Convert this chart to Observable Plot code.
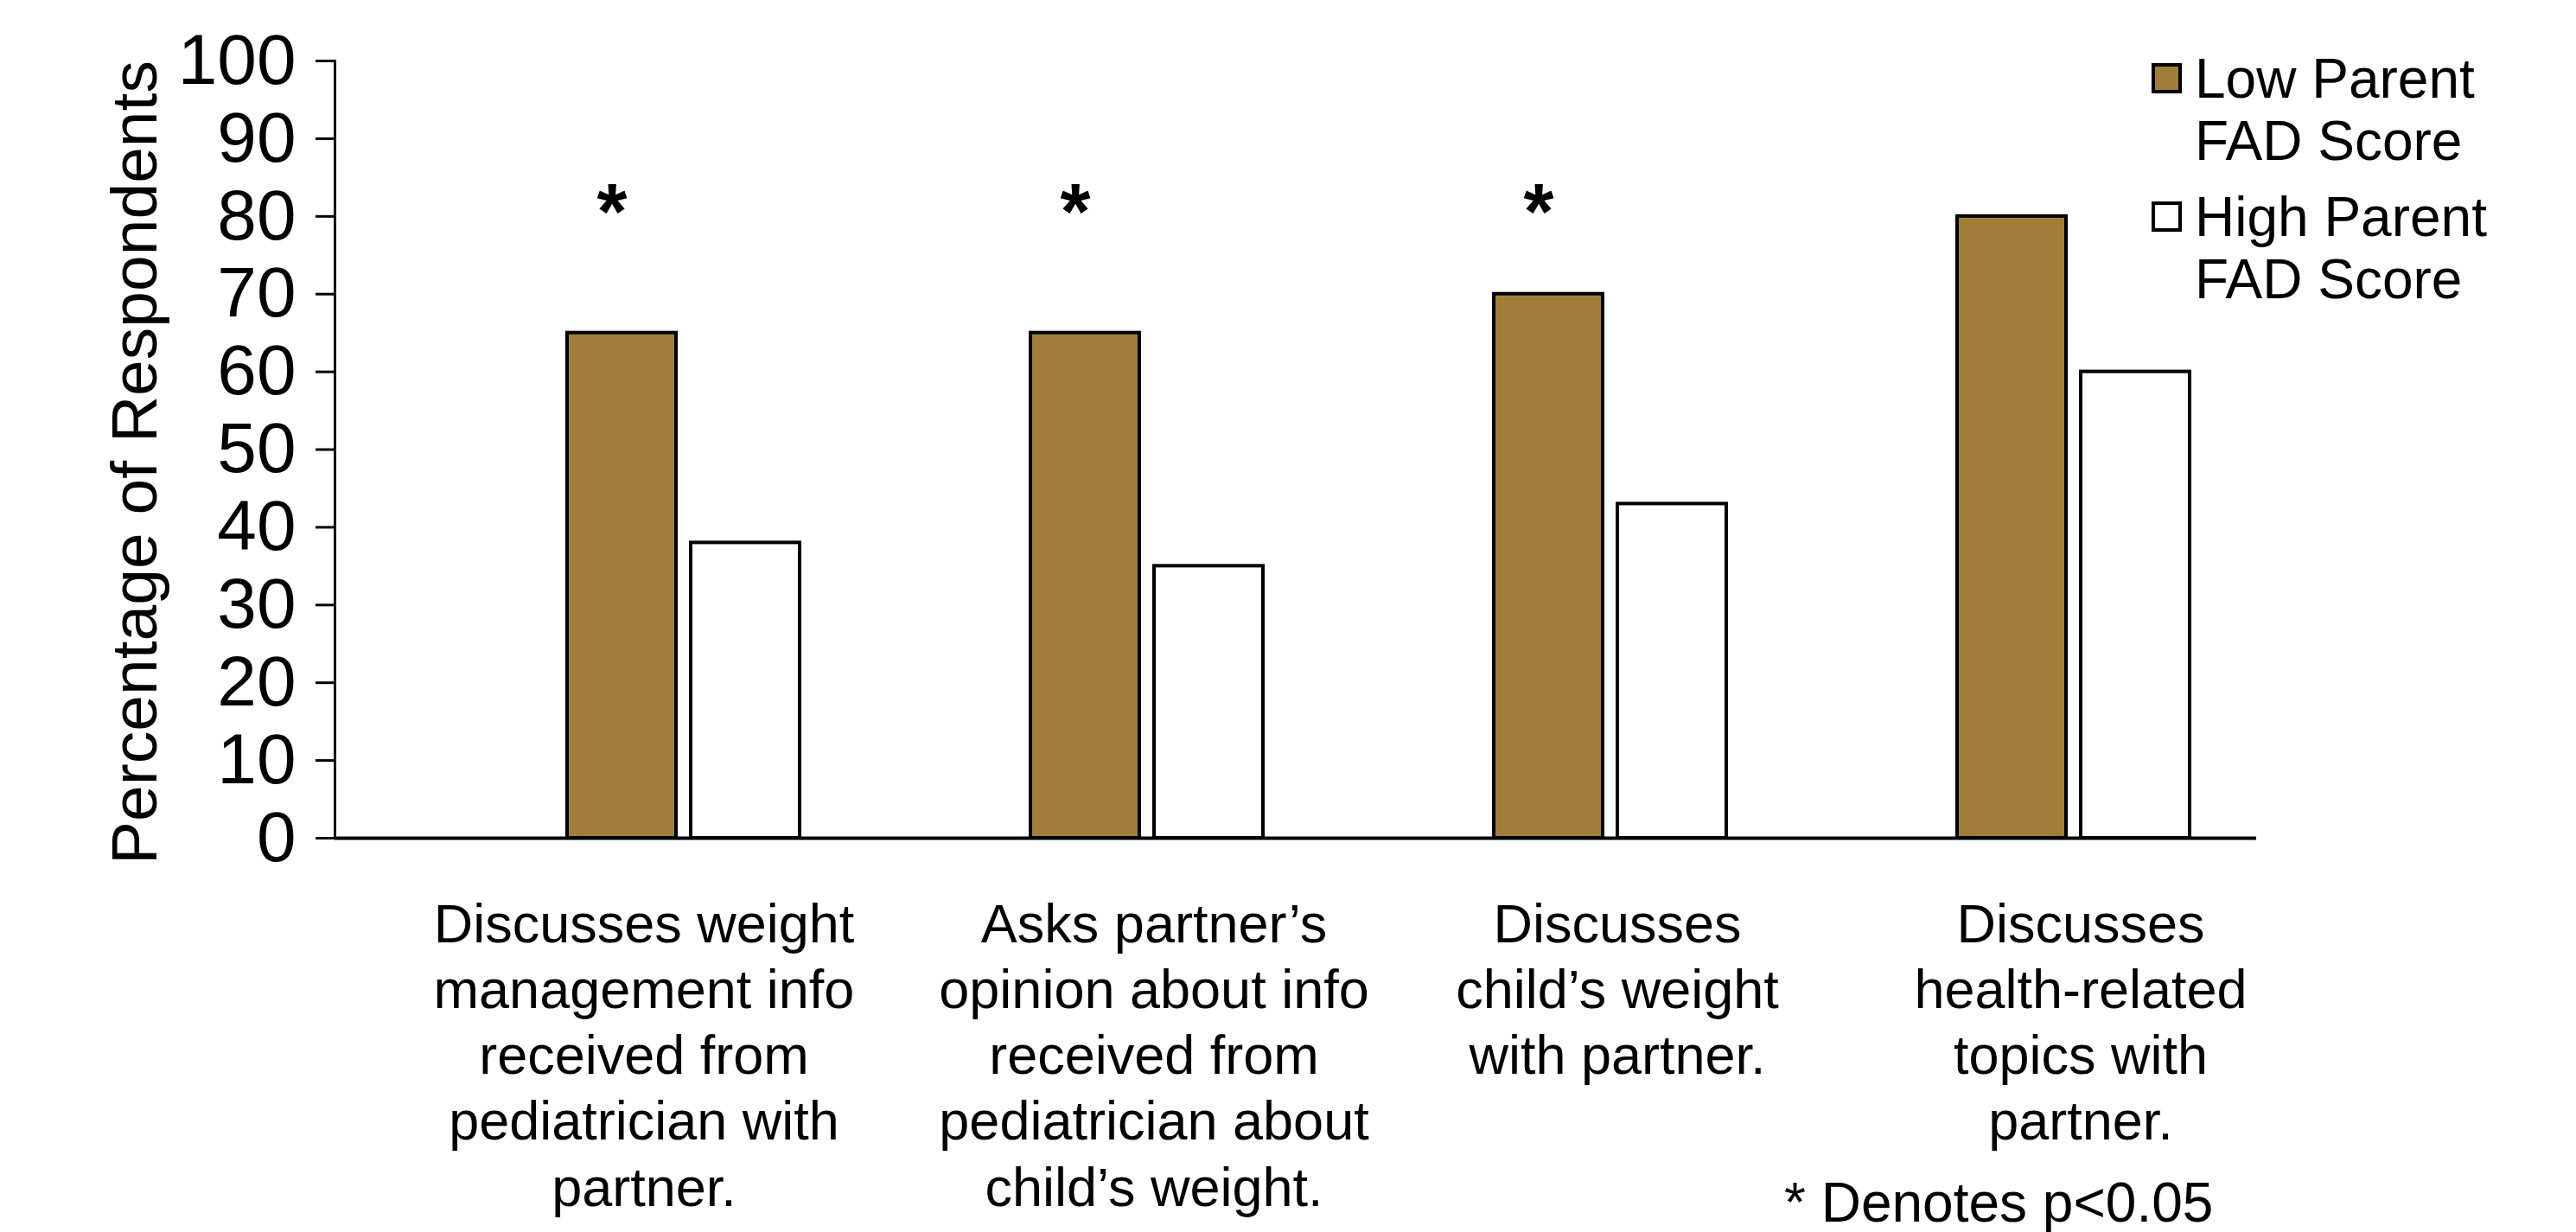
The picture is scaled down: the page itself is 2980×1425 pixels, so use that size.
<!DOCTYPE html>
<html>
<head>
<meta charset="utf-8">
<script src="https://cdn.jsdelivr.net/npm/d3@7"></script>
<script src="https://cdn.jsdelivr.net/npm/@observablehq/plot@0.6"></script>
<style>
  html, body { margin: 0; padding: 0; background: #fff; }
  #wrap { position: relative; width: 2980px; height: 1425px; font-family: "Liberation Sans", Arial, sans-serif; color: #000; }
  .sw { position: absolute; width: 27px; height: 27px; border: 4px solid #000; box-sizing: content-box; }
  .lt { position: absolute; font-size: 64px; line-height: 72px; white-space: pre; }
</style>
</head>
<body>
<div id="wrap"></div>
<script>
// ---- data ----
const categories = [
  "Discusses weight\nmanagement info\nreceived from\npediatrician with\npartner.",
  "Asks partner\u2019s\nopinion about info\nreceived from\npediatrician about\nchild\u2019s weight.",
  "Discusses\nchild\u2019s weight\nwith partner.",
  "Discusses\nhealth-related\ntopics with\npartner."
];
const lowScores = [65, 65, 70, 80];
const highScores = [38, 35, 43, 60];
const significant = [true, true, true, false];
const seriesNames = ["Low Parent\nFAD Score", "High Parent\nFAD Score"];
const seriesColors = ["#A07E3A", "#FFFFFF"];
const yTicks = [0, 10, 20, 30, 40, 50, 60, 70, 80, 90, 100];
const yLabel = "Percentage of Respondents";
const note = "* Denotes p<0.05";

const rows = categories.map((c, i) => ({category: c, low: lowScores[i], high: highScores[i], sig: significant[i]}));

const labelStyle = {x: "category", text: "category", frameAnchor: "bottom", lineAnchor: "top", dy: 66, fontSize: 63, lineHeight: 1.21};

const chart = Plot.plot({
  width: 2980,
  height: 1425,
  marginTop: 70,
  marginBottom: 456,
  marginLeft: 387,
  marginRight: 370,
  style: {fontFamily: "'Liberation Sans', Arial, sans-serif", background: "#fff", color: "#000"},
  x: {domain: categories, paddingInner: 0.4986, paddingOuter: 0.321, align: 0.776, axis: null},
  y: {domain: [0, 100], axis: null},
  marks: [
    Plot.barY(rows, {x: "category", y: "low", fill: seriesColors[0], stroke: "#000", strokeWidth: 4, insetRight: 143}),
    Plot.barY(rows, {x: "category", y: "high", fill: seriesColors[1], stroke: "#000", strokeWidth: 4, insetLeft: 143}),
    Plot.ruleY([0], {stroke: "#000", strokeWidth: 4}),
    Plot.frame({anchor: "left", stroke: "#000", strokeWidth: 3}),
    Plot.axisY({ticks: yTicks, tickSize: 22, tickPadding: 23, fontSize: 82, tickFormat: d => String(d), strokeWidth: 3, label: null}),
    Plot.text(rows.filter(d => d.sig), {x: "category", text: () => "*", frameAnchor: "top", lineAnchor: "top", dx: -83, dy: 142, fontSize: 90, fontWeight: "bold"}),
    Plot.text(rows.slice(0, 1), {...labelStyle, dx: -46}),
    Plot.text(rows.slice(1), {...labelStyle, dx: 8}),
    Plot.text([yLabel], {frameAnchor: "left", textAnchor: "middle", lineAnchor: "middle", rotate: -90, dx: -231, dy: 15, fontSize: 75})
  ]
});

const wrap = document.getElementById("wrap");
wrap.appendChild(chart);

// legend
const legendTops = [55, 215];
seriesNames.forEach((name, i) => {
  const sw = document.createElement("div");
  sw.className = "sw";
  sw.style.left = "2489px";
  sw.style.top = (legendTops[i] + 18) + "px";
  sw.style.background = seriesColors[i];
  wrap.appendChild(sw);
  const t = document.createElement("div");
  t.className = "lt";
  t.style.left = "2539px";
  t.style.top = legendTops[i] + "px";
  t.textContent = name;
  wrap.appendChild(t);
});

const cap = document.createElement("div");
cap.className = "lt";
cap.style.left = "2064px";
cap.style.top = "1355px";
cap.textContent = note;
wrap.appendChild(cap);
</script>
</body>
</html>
